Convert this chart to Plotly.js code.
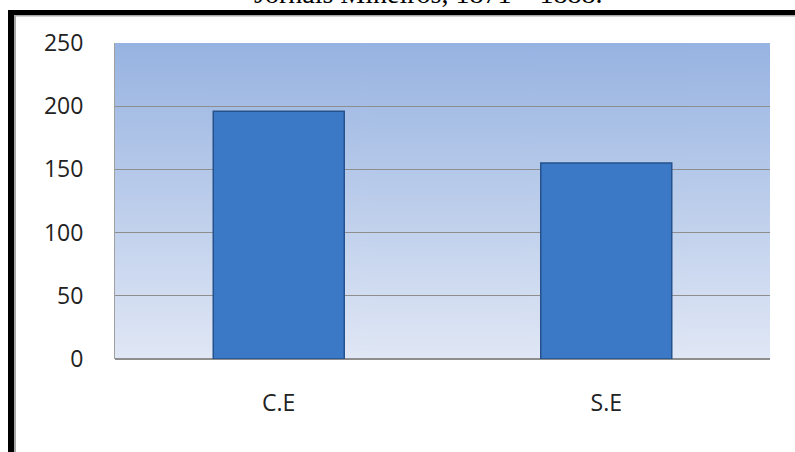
<!DOCTYPE html>
<html>
<head>
<meta charset="utf-8">
<script src="https://cdn.plot.ly/plotly-3.0.1.min.js"></script>
<style>
html,body{margin:0;padding:0;background:#fff;}
#chart{width:795px;height:452px;}
</style>
</head>
<body>
<div id="chart"></div>
<script>
var categories = ["C.E", "S.E"];
var values = [196, 155];
var yTicks = [0, 50, 100, 150, 200, 250];
var titleText = "Jornais Mineiros, 1871 – 1888.";

// background gradient image for the plot area
var cv = document.createElement('canvas');
cv.width = 4; cv.height = 316;
var ctx = cv.getContext('2d');
var g = ctx.createLinearGradient(0, 0, 0, 316);
g.addColorStop(0, '#97b3e1');
g.addColorStop(1, '#e0e7f5');
ctx.fillStyle = g;
ctx.fillRect(0, 0, 4, 316);
var bgUrl = cv.toDataURL();

var W = 795, H = 452, L = 115, R = 25, T = 43, B = 93;
var pw = W - L - R, ph = H - T - B;
function px(x){ return (x - L) / pw; }
function py(y){ return (H - B - y) / ph; }

var trace = {
  type: 'bar',
  x: categories,
  y: values,
  width: 0.4,
  marker: {
    color: '#3b78c6',
    line: {color: '#25528c', width: 1.5}
  },
  hoverinfo: 'x+y'
};

var layout = {
  width: W, height: H,
  margin: {l: L, r: R, t: T, b: B, pad: 0},
  paper_bgcolor: '#ffffff',
  plot_bgcolor: 'rgba(0,0,0,0)',
  showlegend: false,
  font: {family: 'Open Sans, sans-serif', color: '#222'},
  xaxis: {
    type: 'category',
    tickfont: {family: 'Open Sans, sans-serif', size: 23, color: '#222'},
    showgrid: false,
    zeroline: false,
    showline: false,
    ticks: '',
    ticklabelstandoff: 28
  },
  yaxis: {
    range: [0, 250],
    tickvals: yTicks,
    ticktext: yTicks.map(String),
    tickfont: {family: 'Open Sans, sans-serif', size: 23, color: '#222'},
    showgrid: true,
    gridcolor: '#8e8e8e',
    gridwidth: 1.2,
    zeroline: true,
    zerolinecolor: '#8e8e8e',
    zerolinewidth: 1.2,
    showline: true,
    linecolor: '#a0a0a0',
    linewidth: 1,
    ticks: '',
    ticklabelstandoff: 26
  },
  images: [{
    source: bgUrl,
    xref: 'paper', yref: 'paper',
    x: 0, y: 1, sizex: 1, sizey: 1,
    sizing: 'stretch', layer: 'below',
    xanchor: 'left', yanchor: 'top'
  }],
  shapes: [
    {type: 'rect', xref: 'paper', yref: 'paper', x0: px(8), x1: px(800), y0: py(15), y1: py(10),
     fillcolor: '#000', line: {width: 0}, layer: 'above'},
    {type: 'rect', xref: 'paper', yref: 'paper', x0: px(8), x1: px(14), y0: py(460), y1: py(10),
     fillcolor: '#000', line: {width: 0}, layer: 'above'},
    {type: 'rect', xref: 'paper', yref: 'paper', x0: px(14), x1: px(800), y0: py(16.5), y1: py(15),
     fillcolor: '#a8a8a8', line: {width: 0}, layer: 'above'},
    {type: 'rect', xref: 'paper', yref: 'paper', x0: px(14), x1: px(16), y0: py(460), y1: py(15),
     fillcolor: '#a8a8a8', line: {width: 0}, layer: 'above'}
  ],
  annotations: [{
    text: titleText,
    xref: 'paper', yref: 'paper',
    x: px(428), y: py(3),
    xanchor: 'center', yanchor: 'bottom',
    yshift: -8,
    showarrow: false,
    font: {family: 'Liberation Serif, serif', size: 28, color: '#000'}
  }]
};

Plotly.newPlot('chart', [trace], layout, {displayModeBar: false, staticPlot: true});
</script>
</body>
</html>
